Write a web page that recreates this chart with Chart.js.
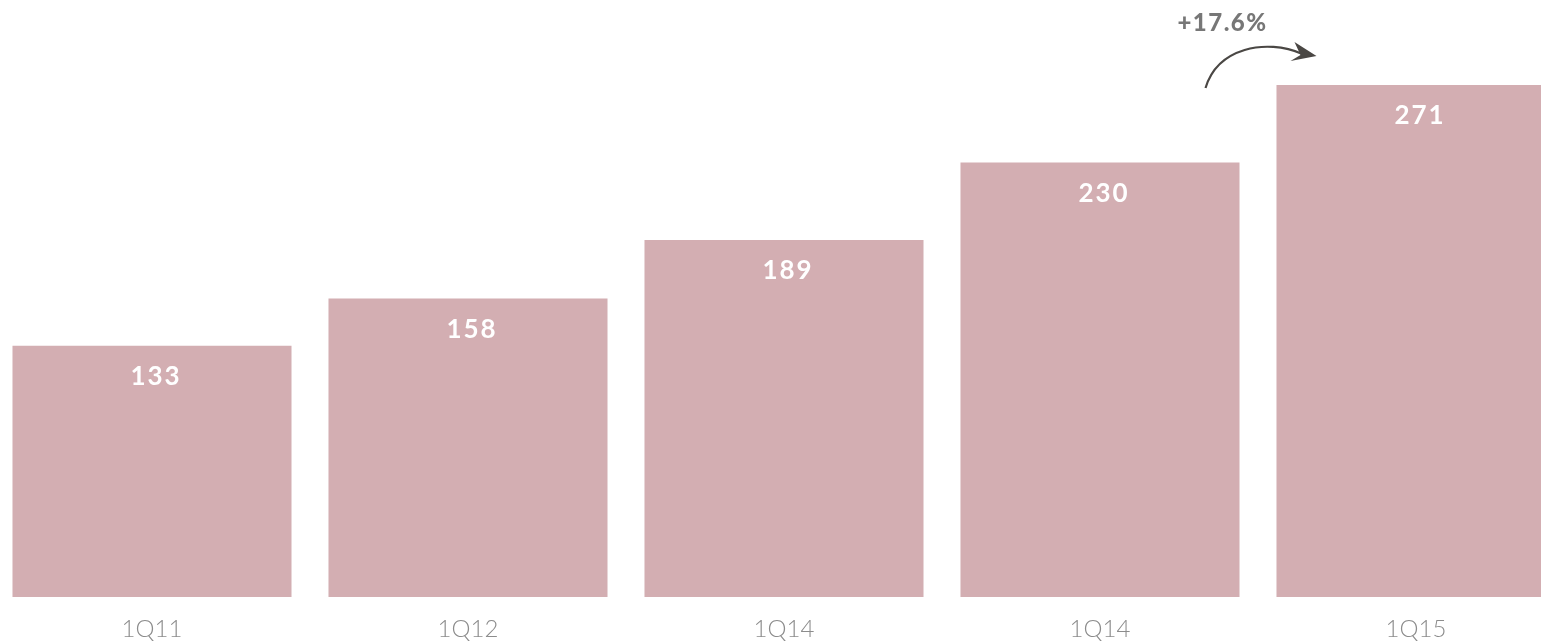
<!DOCTYPE html>
<html>
<head>
<meta charset="utf-8">
<script src="https://cdn.jsdelivr.net/npm/chart.js@4"></script>
<style>
  html, body { margin: 0; padding: 0; background: #fff; overflow: hidden; }
  #wrap { position: absolute; left: -6px; top: 0; width: 1580px; height: 661px; }
</style>
</head>
<body>
<div id="wrap"><canvas id="chart" width="1580" height="661"></canvas></div>
<script>
// chart data
const categories = ["1Q11", "1Q12", "1Q14", "1Q14", "1Q15"];
const values = [133, 158, 189, 230, 271];
const growthLabel = "+17.6%";

const BAR_COLOR = "#d3aeb2";

// draws the numbers inside the bars and the growth arrow
const labelsPlugin = {
    id: "barLabels",
    afterDatasetsDraw(chart) {
        const ctx = chart.ctx;
        const bars = chart.getDatasetMeta(0).data;
        ctx.save();
        ctx.fillStyle = "#ffffff";
        ctx.font = "bold 26px Lato";
        ctx.textAlign = "center";
        ctx.textBaseline = "middle";
        ctx.letterSpacing = "2px";
        bars.forEach((bar, i) => {
            ctx.fillText(values[i], bar.x + 4, bar.y + 31);
        });

        // growth arrow between the last two bars
        const prev = bars[bars.length - 2];
        const last = bars[bars.length - 1];
        const prevRight = prev.x + prev.width / 2;
        const lastLeft = last.x - last.width / 2;
        const x0 = prevRight - 34, y0 = last.y + 3;
        const x1 = lastLeft + 40, y1 = last.y - 29;
        ctx.strokeStyle = "#4a4744";
        ctx.fillStyle = "#4a4744";
        ctx.lineWidth = 2.2;
        ctx.beginPath();
        ctx.moveTo(x0, y0);
        ctx.bezierCurveTo(x0 + 12, y0 - 40, x0 + 60, y0 - 50, x1 - 14, y1 - 2);
        ctx.stroke();
        ctx.beginPath();
        ctx.moveTo(x1, y1);
        ctx.lineTo(x1 - 22, y1 - 14);
        ctx.lineTo(x1 - 16, y1 - 1);
        ctx.lineTo(x1 - 26, y1 + 5);
        ctx.closePath();
        ctx.fill();

        ctx.fillStyle = "#777777";
        ctx.font = "900 24px Lato";
        ctx.letterSpacing = "1.5px";
        ctx.fillText(growthLabel, prevRight - 17, 23);
        ctx.restore();
    }
};

const ctx = document.getElementById("chart").getContext("2d");
new Chart(ctx, {
    type: "bar",
    data: {
        labels: categories,
        datasets: [{
            data: values,
            backgroundColor: BAR_COLOR,
            borderWidth: 0,
            categoryPercentage: 1,
            barPercentage: 0.883
        }]
    },
    options: {
        responsive: false,
        animation: false,
        layout: { padding: 0 },
        plugins: {
            legend: { display: false },
            tooltip: { enabled: false }
        },
        scales: {
            x: {
                grid: { display: false, drawTicks: false },
                border: { display: false },
                ticks: {
                    color: "#8c8c8c",
                    padding: 17.6,
                    font: { family: "Lato", size: 24, weight: 300 }
                }
            },
            y: {
                display: false,
                min: 0,
                max: 316
            }
        }
    },
    plugins: [labelsPlugin]
});
</script>
</body>
</html>
